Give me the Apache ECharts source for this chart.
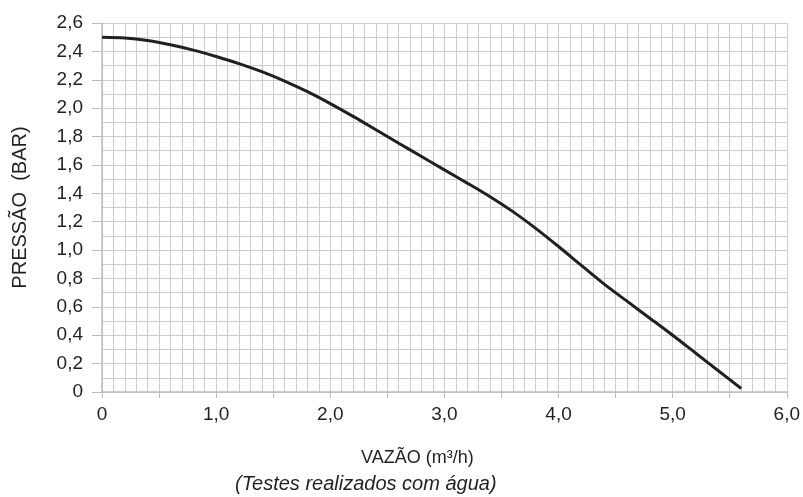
<!DOCTYPE html>
<html>
<head>
<meta charset="utf-8">
<script src="https://cdn.jsdelivr.net/npm/echarts@6/dist/echarts.min.js"></script>
<style>
  html, body { margin: 0; padding: 0; background: #ffffff; }
  #chart { width: 803px; height: 497px; }
</style>
</head>
<body>
<div id="chart"></div>
<script>
// Flow (m³/h) and pressure (bar) readings of the pump curve
const flow = [0, 0.2, 0.4, 0.6, 0.8, 1.0, 1.2, 1.4, 1.6, 1.8, 2.0, 2.2, 2.4, 2.6, 2.8, 3.0, 3.2, 3.4, 3.6, 3.8, 4.0, 4.2, 4.4, 4.6, 4.8, 5.0, 5.2, 5.4, 5.6];
const pressure = [2.500, 2.495, 2.477, 2.447, 2.409, 2.364, 2.314, 2.257, 2.191, 2.116, 2.032, 1.942, 1.848, 1.753, 1.659, 1.565, 1.472, 1.376, 1.271, 1.153, 1.025, 0.892, 0.760, 0.640, 0.520, 0.400, 0.275, 0.150, 0.025];
const xAxisName = 'VAZÃO (m³/h)';
const yAxisName = 'PRESSÃO  (BAR)';
const footnote = '(Testes realizados com água)';

const points = flow.map((x, i) => [x, pressure[i]]);
const textColor = '#231f20';
const gridColor = '#cccccc';
const font = 'Liberation Sans, Arial, sans-serif';

function fmt(v) {
  if (Math.abs(v) < 1e-9) return '0';
  return v.toFixed(1).replace('.', ',');
}

const chart = echarts.init(document.getElementById('chart'), null, { renderer: 'canvas' });
chart.setOption({
  animation: false,
  backgroundColor: '#ffffff',
  textStyle: { fontFamily: font },
  title: {
    text: footnote,
    left: 230,
    top: 469,
    textStyle: { fontFamily: font, fontSize: 20, fontStyle: 'italic', fontWeight: 'normal', color: textColor }
  },
  grid: { left: 102, right: 15, top: 23, bottom: 105 },
  xAxis: {
    type: 'value',
    min: 0,
    max: 6,
    interval: 0.5,
    name: xAxisName,
    nameLocation: 'middle',
    nameGap: 57,
    nameTextStyle: { fontFamily: font, fontSize: 18, color: textColor, padding: [0, 54, 0, 0] },
    axisLine: { show: true, lineStyle: { color: '#bdbdbd', width: 1.5 } },
    axisTick: { show: true, length: 6, lineStyle: { color: '#bdbdbd' } },
    axisLabel: {
      margin: 13,
      fontSize: 19,
      color: textColor,
      fontFamily: font,
      formatter: function (v) {
        if (Math.abs(v - Math.round(v)) > 1e-9) return '';
        return fmt(v);
      }
    },
    splitLine: { show: true, lineStyle: { color: gridColor, width: 1 } },
    minorTick: { show: true, splitNumber: 5, length: 0 },
    minorSplitLine: { show: true, lineStyle: { color: gridColor, width: 1 } }
  },
  yAxis: {
    type: 'value',
    min: 0,
    max: 2.6,
    interval: 0.2,
    name: yAxisName,
    nameLocation: 'middle',
    nameGap: 72,
    nameRotate: 90,
    nameTextStyle: { fontFamily: font, fontSize: 20, color: textColor },
    axisLine: { show: true, lineStyle: { color: '#bdbdbd', width: 1.5 } },
    axisTick: { show: true, length: 10, lineStyle: { color: '#bdbdbd' } },
    axisLabel: { margin: 19, fontSize: 19, color: textColor, fontFamily: font, formatter: fmt },
    splitLine: { show: true, lineStyle: { color: gridColor, width: 1 } },
    minorTick: { show: true, splitNumber: 2, length: 0 },
    minorSplitLine: { show: true, lineStyle: { color: gridColor, width: 1 } }
  },
  series: [{
    type: 'line',
    data: points,
    smooth: 0.3,
    symbol: 'none',
    lineStyle: { color: textColor, width: 3 },
    z: 5
  }]
});
</script>
</body>
</html>
